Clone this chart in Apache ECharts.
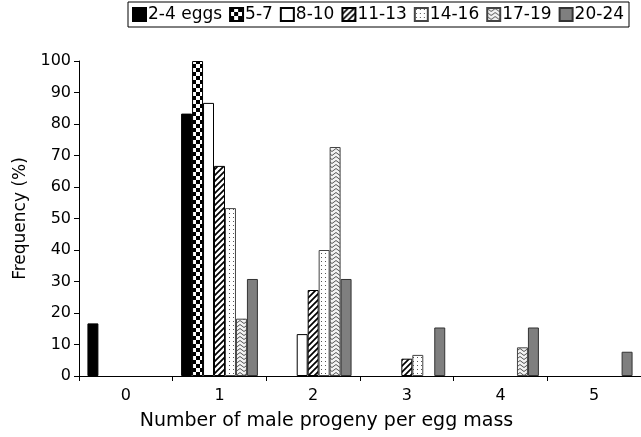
<!DOCTYPE html>
<html><head><meta charset="utf-8">
<script src="https://cdn.jsdelivr.net/npm/echarts@6/dist/echarts.min.js"></script>
<style>html,body{margin:0;padding:0;background:#fff}#c{width:641px;height:437px}</style>
</head><body><div id="c"></div>
<script>
const categories = ['0','1','2','3','4','5'];
const seriesNames = ['2-4 eggs','5-7','8-10','11-13','14-16','17-19','20-24'];
const eggs2_4 = [16.7, 83.3, null, null, null, null];
const eggs5_7 = [null, 100, null, null, null, null];
const eggs8_10 = [null, 86.7, 13.3, null, null, null];
const eggs11_13 = [null, 66.7, 27.3, 5.5, null, null];
const eggs14_16 = [null, 53.3, 40, 6.7, null, null];
const eggs17_19 = [null, 18.2, 72.7, null, 9.1, null];
const eggs20_24 = [null, 30.8, 30.8, 15.4, 15.4, 7.7];
const yTicks = [0,10,20,30,40,50,60,70,80,90,100];

function pat(w, h, draw) {
  const c = document.createElement('canvas');
  c.width = w; c.height = h;
  const g = c.getContext('2d');
  g.fillStyle = '#fff'; g.fillRect(0,0,w,h);
  draw(g);
  return {image: c, repeat: 'repeat'};
}
const checker = pat(8, 8, g => { g.fillStyle='#000'; g.fillRect(0,0,4,4); g.fillRect(4,4,4,4); });
const hatch = pat(6, 6, g => {
  g.strokeStyle='#000'; g.lineWidth=1.7;
  g.beginPath();
  g.moveTo(-1,7); g.lineTo(7,-1);
  g.moveTo(-4,4); g.lineTo(4,-4);
  g.moveTo(2,10); g.lineTo(10,2);
  g.stroke();
});
const dotted = pat(4, 4, g => { g.fillStyle='#555'; g.fillRect(1,1,1,1); });
const wavy = pat(8, 4, g => {
  g.fillStyle='#f2f2f2'; g.fillRect(0,0,8,4);
  g.strokeStyle='#555'; g.lineWidth=1;
  g.beginPath(); g.moveTo(0,0.5); g.lineTo(4,3.5); g.lineTo(8,0.5); g.stroke();
});
const fills = ['#000', checker, '#fff', hatch, dotted, wavy, '#7f7f7f'];
const borders = ['#000', '#000', '#000', '#000', '#444', '#444', '#333'];
const dataSets = [eggs2_4, eggs5_7, eggs8_10, eggs11_13, eggs14_16, eggs17_19, eggs20_24];

const font = 'DejaVu Sans, Verdana, sans-serif';
const chart = echarts.init(document.getElementById('c'), null, {renderer: 'canvas'});
chart.setOption({
  animation: false,
  backgroundColor: '#fff',
  textStyle: {fontFamily: font},
  legend: {
    top: 2, left: 128,
    data: seriesNames,
    itemWidth: 13, itemHeight: 13, itemGap: 7,
    padding: [4, 5, 4, 4],
    borderColor: '#000', borderWidth: 1,
    textStyle: {fontSize: 17, color: '#000', fontFamily: font, padding: [0,0,0,-3]},
    icon: 'rect'
  },
  grid: {left: 79, top: 61, bottom: 61, width: 569, containLabel: false},
  xAxis: {
    type: 'category', data: categories,
    axisLine: {lineStyle: {color: '#000', width: 1}},
    axisTick: {show: true, length: 5, lineStyle: {color: '#000'}},
    axisLabel: {fontSize: 16, color: '#000', margin: 12, fontFamily: font},
    name: 'Number of male progeny per egg mass', nameLocation: 'middle', nameGap: 36,
    nameTextStyle: {fontSize: 19, color: '#000', fontFamily: font, padding: [0, 67, 0, 0]}
  },
  yAxis: {
    type: 'value', min: 0, max: 100, interval: 10,
    axisLine: {show: true, lineStyle: {color: '#000', width: 1}},
    axisTick: {show: true, length: 5, lineStyle: {color: '#000'}},
    splitLine: {show: false},
    axisLabel: {fontSize: 16, color: '#000', margin: 8, fontFamily: font},
    name: 'Frequency (%)', nameLocation: 'middle', nameGap: 48,
    nameTextStyle: {fontSize: 17, color: '#000', fontFamily: font}
  },
  series: seriesNames.map((n, i) => ({
    name: n, type: 'bar', data: dataSets[i],
    barGap: '0%', barCategoryGap: '18%',
    itemStyle: {color: fills[i], borderColor: borders[i], borderWidth: 1}
  }))
});
</script></body></html>
